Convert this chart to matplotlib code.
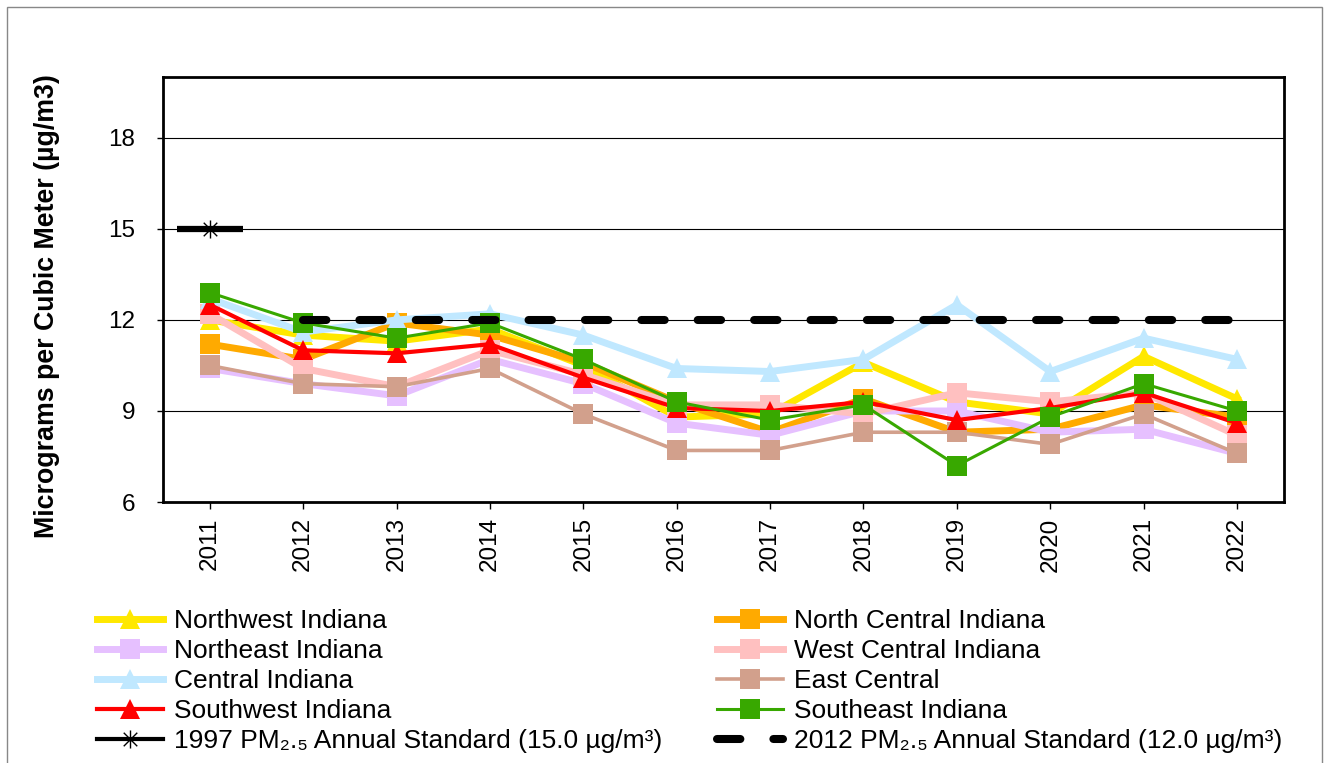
import numpy as np
import matplotlib
matplotlib.use("Agg")
from matplotlib import pyplot as plt
from matplotlib.path import Path
from matplotlib.patches import Rectangle

plt.rcParams['font.family'] = ['Liberation Sans', 'DejaVu Sans']

years = ['2011', '2012', '2013', '2014', '2015', '2016',
         '2017', '2018', '2019', '2020', '2021', '2022']

northwest = [12.0, 11.5, 11.3, 11.7, 10.5, 8.8, 8.9, 10.6, 9.3, 8.9, 10.8, 9.4]
north_central = [11.2, 10.7, 11.9, 11.5, 10.6, 9.3, 8.3, 9.4, 8.3, 8.4, 9.2, 8.8]
northeast = [10.4, 9.9, 9.5, 10.7, 9.9, 8.6, 8.2, 9.0, 9.0, 8.3, 8.4, 7.6]
west_central = [12.2, 10.4, 9.8, 11.0, 10.2, 9.2, 9.2, 8.9, 9.6, 9.3, 9.6, 8.2]
central = [12.7, 11.6, 12.0, 12.2, 11.5, 10.4, 10.3, 10.7, 12.5, 10.3, 11.4, 10.7]
east_central = [10.5, 9.9, 9.8, 10.4, 8.9, 7.7, 7.7, 8.3, 8.3, 7.9, 8.9, 7.6]
southwest = [12.5, 11.0, 10.9, 11.2, 10.1, 9.1, 9.0, 9.3, 8.7, 9.1, 9.6, 8.6]
southeast = [12.9, 11.9, 11.4, 11.9, 10.7, 9.3, 8.7, 9.2, 7.2, 8.8, 9.9, 9.0]

std_1997 = [15.0] + [np.nan] * 11
std_2012 = [np.nan] + [12.0] * 11

x = np.arange(len(years))

fig = plt.figure(figsize=(13.31, 7.63), dpi=100)
ax = fig.add_axes([0.1225, 0.342, 0.842, 0.557])

# (label, values, color, marker, linewidth)
series = [
    ("Northwest Indiana", northwest, "#FFE800", "^", 5.0),
    ("North Central Indiana", north_central, "#FFAA00", "s", 5.0),
    ("Northeast Indiana", northeast, "#E6C0FF", "s", 5.0),
    ("West Central Indiana", west_central, "#FFC0C0", "s", 5.0),
    ("Central Indiana", central, "#C0E8FF", "^", 5.0),
    ("East Central", east_central, "#D2A08C", "s", 2.6),
    ("Southwest Indiana", southwest, "#FF0000", "^", 3.0),
    ("Southeast Indiana", southeast, "#38A800", "s", 2.2),
]

handles = {}
for label, vals, col, mk, lw in series:
    h, = ax.plot(x, vals, color=col, marker=mk, markersize=14, lw=lw,
                 markeredgewidth=0, label=label)
    handles[label] = h

# asterisk marker: vertical + X
star = Path([(0, -1), (0, 1), (-0.75, -0.75), (0.75, 0.75), (-0.75, 0.75), (0.75, -0.75)],
            [Path.MOVETO, Path.LINETO, Path.MOVETO, Path.LINETO, Path.MOVETO, Path.LINETO])

lab97 = "1997 PM₂.₅ Annual Standard (15.0 µg/m³)"
lab12 = "2012 PM₂.₅ Annual Standard (12.0 µg/m³)"
ax.plot(x, std_1997, color="black", marker="_", markersize=48, markeredgewidth=4.5, lw=0)
h97, = ax.plot(x, std_1997, color="black", lw=3, marker=star, markersize=13,
               markeredgewidth=1.0, markerfacecolor="none", label=lab97)
h12, = ax.plot(x, std_2012, color="black", lw=5.8, dashes=(2.9, 4.1),
               dash_capstyle="round", label=lab12)

ax.set_xlim(-0.5, len(years) - 0.5)
ax.set_ylim(6, 20)
ax.set_yticks([6, 9, 12, 15, 18])
ax.set_xticks(x)
ax.set_xticklabels(years, rotation=90)
ax.tick_params(axis='y', labelsize=17.5, length=4, width=1, pad=16)
ax.tick_params(axis='x', labelsize=17.5, length=5, width=1, pad=6)
ax.yaxis.grid(True, color="black", lw=0.8)
ax.set_axisbelow(True)
for s in ax.spines.values():
    s.set_linewidth(2)

ax.set_ylabel("Micrograms per Cubic Meter (µg/m3)", fontsize=19.3, fontweight="bold")
ax.yaxis.set_label_coords(-0.092, 0.46)

order_col1 = ["Northwest Indiana", "Northeast Indiana", "Central Indiana", "Southwest Indiana"]
order_col2 = ["North Central Indiana", "West Central Indiana", "East Central", "Southeast Indiana"]
hs = [handles[k] for k in order_col1] + [h97] + [handles[k] for k in order_col2] + [h12]
ls = order_col1 + [lab97] + order_col2 + [lab12]
fig.legend(hs, ls, ncol=2, loc="upper left", bbox_to_anchor=(0.073, 0.202),
           frameon=False, fontsize=19, handlelength=2.5, handletextpad=0.4,
           labelspacing=0.23, columnspacing=2.1, borderaxespad=0, borderpad=0)

fig.patches.append(Rectangle((7 / 1331, -0.1), 1315 / 1331, 1.1 - 7 / 763,
                             transform=fig.transFigure, fill=False,
                             edgecolor="#888888", lw=1))

fig.savefig("out.png", dpi=100)
